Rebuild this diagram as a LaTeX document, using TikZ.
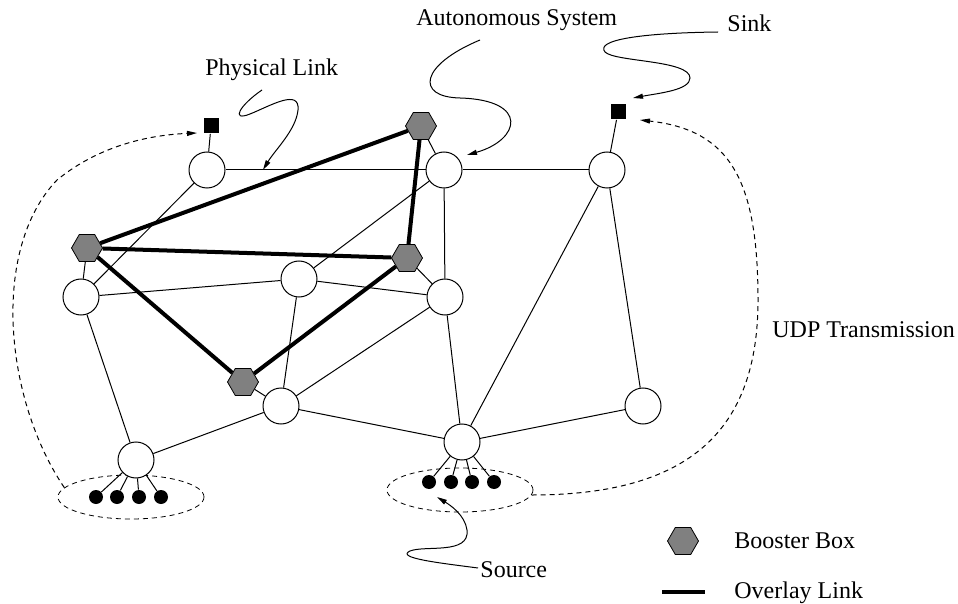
\documentclass[tikz,border=0pt]{standalone}
\usepackage{fontspec}
\setmainfont{Liberation Serif}
\usetikzlibrary{shapes.geometric,arrows.meta,calc}
\begin{document}
\begin{tikzpicture}[x=0.5pt,y=-0.5pt,
  router/.style={circle,draw,fill=white,line width=0.5pt,minimum size=18pt,inner sep=0pt},
  booster/.style={regular polygon,regular polygon sides=6,draw,fill=gray,line width=0.4pt,minimum size=15.5pt,inner sep=0pt},
  sinkbox/.style={rectangle,fill=black,minimum size=7.5pt,inner sep=0pt},
  srcdot/.style={circle,fill=black,minimum size=7pt,inner sep=0pt},
  grp/.style={ellipse,draw,dash pattern=on 2.5pt off 2pt,line width=0.4pt,minimum width=73pt,minimum height=22pt,inner sep=0pt},
  phys/.style={line width=0.5pt},
  ovlink/.style={line width=2pt},
  pointer/.style={line width=0.5pt,-{Triangle[length=5pt,width=2.5pt]}},
  udp/.style={line width=0.5pt,dash pattern=on 2.5pt off 2pt,-{Triangle[length=5pt,width=2.5pt]}},
  lbl/.style={anchor=base west,inner sep=0pt,font=\fontsize{12}{14}\selectfont}
]
\useasboundingbox (0,0) rectangle (958,604);

% dashed groups
\node[grp] (eL) at (131,497) {};
\node[grp] (eR) at (460,490) {};

% routers
\node[router] (A) at (207,170) {};
\node[router] (B) at (444,170) {};
\node[router] (C) at (607,170) {};
\node[router] (D) at (81,297) {};
\node[router] (E) at (299,279) {};
\node[router] (F) at (445,297) {};
\node[router] (G) at (281,406) {};
\node[router] (H) at (136,460) {};
\node[router] (I) at (462,442) {};
\node[router] (J) at (643,406) {};

% booster boxes
\node[booster] (b1) at (421,126) {};
\node[booster] (b2) at (87,248) {};
\node[booster] (b3) at (407,258) {};
\node[booster] (b4) at (243,382) {};

% sinks
\node[sinkbox] (s1) at (211,126) {};
\node[sinkbox] (s2) at (618,112) {};

% sources
\node[srcdot] (d1) at (96,497) {};
\node[srcdot] (d2) at (117,497) {};
\node[srcdot] (d3) at (139,497) {};
\node[srcdot] (d4) at (161,497) {};
\node[srcdot] (d5) at (429,482) {};
\node[srcdot] (d6) at (451,482) {};
\node[srcdot] (d7) at (472,482) {};
\node[srcdot] (d8) at (494,482) {};

% physical links
\draw[phys] (A) -- (B);
\draw[phys] (B) -- (C);
\draw[phys] (A) -- (s1);
\draw[phys] (C) -- (s2);
\draw[phys] (A) -- (D);
\draw[phys] (D) -- (b2);
\draw[phys] (D) -- (E);
\draw[phys] (D) -- (H);
\draw[phys] (B) -- (b1);
\draw[phys] (B) -- (E);
\draw[phys] (B) -- (F);
\draw[phys] (b3) -- (F);
\draw[phys] (E) -- (F);
\draw[phys] (E) -- (G);
\draw[phys] (b4) -- (G);
\draw[phys] (G) -- (H);
\draw[phys] (G) -- (F);
\draw[phys] (G) -- (I);
\draw[phys] (F) -- (I);
\draw[phys] (C) -- (I);
\draw[phys] (C) -- (J);
\draw[phys] (I) -- (J);
\foreach \d in {d1,d2,d3,d4} \draw[phys] (H) -- (\d);
\foreach \d in {d5,d6,d7,d8} \draw[phys] (I) -- (\d);

% overlay links
\draw[ovlink] (b2) -- (b1);
\draw[ovlink] (b2) -- (b3);
\draw[ovlink] (b2) -- (b4);
\draw[ovlink] (b1) -- (b3);
\draw[ovlink] (b3) -- (b4);

% labels
\node[lbl] (tPhys) at (205,76) {Physical Link};
\node[lbl] (tAS) at (416,26) {Autonomous System};
\node[lbl] (tSink) at (727,32) {Sink};
\node[lbl] (tUDP) at (772,337) {UDP Transmission};
\node[lbl] (tBB) at (734,548) {Booster Box};
\node[lbl] (tOL) at (734,598) {Overlay Link};
\node[lbl] (tSrc) at (480,577) {Source};

% legend
\node[booster] (lb) at (683,541) {};
\coordinate (lo1) at (662,592);
\coordinate (lo2) at (705,592);
\draw[ovlink] (lo1) -- (lo2);

% pointer squiggles
\coordinate (pPhys) at (262,90);
\coordinate (plk) at ($(A)!0.236!(B)$);
\draw[pointer] (pPhys) .. controls (240,105) and (230,122) .. (250,114)
  .. controls (270,106) and (300,88) .. (298,110)
  .. controls (296,130) and (275,150) .. (plk);

\coordinate (pAS) at (480,40);
\coordinate (asTip) at (467,155);
\draw[pointer] (pAS) .. controls (420,65) and (415,97) .. (460,98)
  .. controls (530,100) and (520,140) .. (asTip);

\coordinate (pSink) at (718,32);
\coordinate (sinkTip) at (633,98);
\draw[pointer] (pSink) .. controls (640,33) and (595,40) .. (605,52)
  .. controls (615,62) and (690,60) .. (690,78)
  .. controls (690,90) and (660,93) .. (sinkTip);

\coordinate (pSrc) at (478,568);
\coordinate (srcTip) at (437,497);
\draw[pointer] (pSrc) .. controls (440,563) and (395,558) .. (410,551)
  .. controls (425,545) and (470,555) .. (467,530)
  .. controls (465,515) and (450,505) .. (srcTip);

% UDP transmissions
\coordinate (udpLtip) at (197,133);
\coordinate (udpRtip) at (640,120);
\draw[udp] (eL.172) .. controls (5,400) and (-10,250) .. (57,180)
  .. controls (100,145) and (150,135) .. (udpLtip);
\draw[udp] (eR.356) .. controls (690,495) and (758,430) .. (758,300)
  .. controls (758,180) and (730,130) .. (udpRtip);
\end{tikzpicture}
\end{document}
